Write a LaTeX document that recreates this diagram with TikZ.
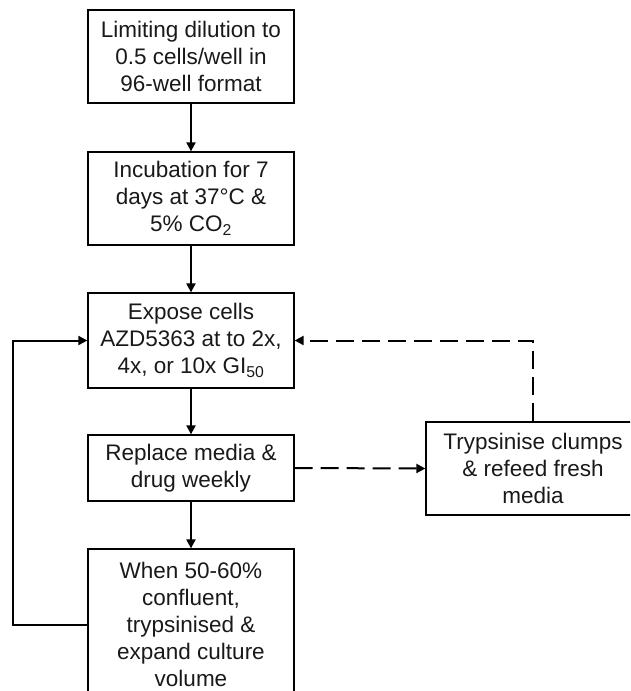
\documentclass[tikz,border=0pt]{standalone}
\usepackage{fontspec}
\setmainfont{Liberation Sans}
\usetikzlibrary{arrows.meta}
\begin{document}
\begin{tikzpicture}[x=1pt,y=-1pt,
  box/.style={draw, line width=1.3pt, align=center, text=black!90,
    font=\fontsize{22.5}{26.8}\selectfont, inner sep=0pt, minimum width=206pt},
  arr/.style={line width=2pt, -{Triangle[length=9pt,width=9pt]}},
  darr/.style={arr, dash pattern=on 18pt off 8pt}]
\useasboundingbox (0,0) rectangle (630,691);
\clip (0,0) rectangle (630,691);
\node[box, minimum height=93pt] (b1) at (191,56.5) {Limiting dilution to\\0.5 cells/well in\\96-well format};
\node[box, minimum height=93pt] (b2) at (191,198.5) {Incubation for 7\\days at 37°C \&\\5\% CO\textsubscript{2}};
\node[box, minimum height=95pt] (b3) at (191,340.5) {Expose cells\\AZD5363 at to 2x,\\4x, or 10x GI\textsubscript{50}};
\node[box, minimum height=66pt] (b4) at (191,468) {Replace media \&\\drug weekly};
\node[box, minimum height=151pt] (b5) at (191,624.5) {When 50-60\%\\confluent,\\trypsinised \&\\expand culture\\volume};
\node[box, minimum height=93pt, minimum width=214pt] (b6) at (533,468.5) {Trypsinise clumps\\\& refeed fresh\\media};
\draw[arr] (b1) -- (b2);
\draw[arr] (b2) -- (b3);
\draw[arr] (b3) -- (b4);
\draw[arr] (b4) -- (b5);
\draw[darr] (b4.east) -- (b6.west);
\draw[darr] (b6.north) |- (b3.east);
\draw[arr] (b5.west) -- ++(-74,0) |- (b3.west);
\end{tikzpicture}
\end{document}
